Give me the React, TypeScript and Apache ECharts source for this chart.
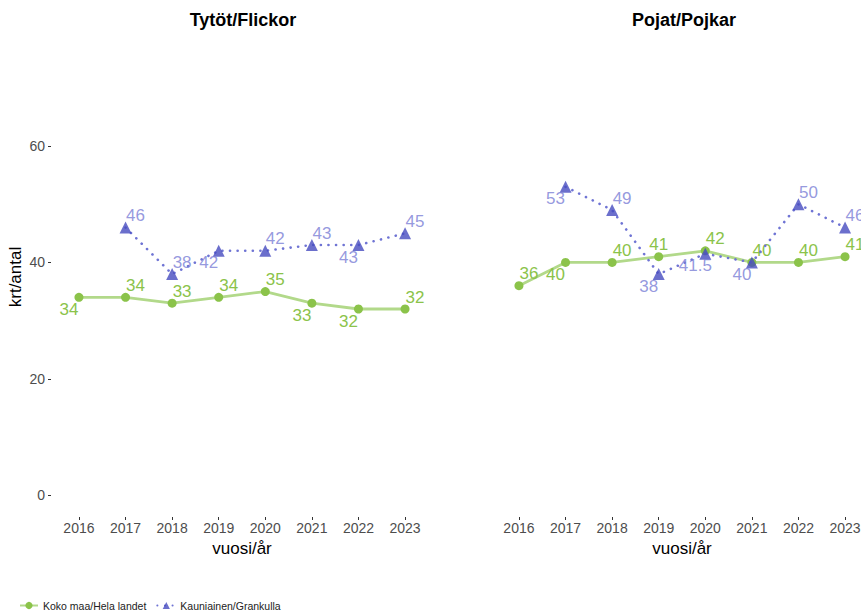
import React, { useEffect, useRef } from "react";
import * as echarts from "echarts";

const years = [2016, 2017, 2018, 2019, 2020, 2021, 2022, 2023];
const yTicks = [0, 20, 40, 60];

const girlsNational = [34, 34, 33, 34, 35, 33, 32, 32];
const girlsLocal = [null, 46, 38, 42, 42, 43, 43, 45];
const boysNational = [36, 40, 40, 41, 42, 40, 40, 41];
const boysLocal = [null, 53, 49, 38, 41.5, 40, 50, 46];

const seriesNames = ["Koko maa/Hela landet", "Kauniainen/Grankulla"];
const panelTitles = ["Tytöt/Flickor", "Pojat/Pojkar"];

// label placement codes: ar = above-right, bl = below-left, a = above
const girlsNationalPlace = ["bl", "ar", "ar", "ar", "ar", "bl", "bl", "ar"];
const girlsLocalPlace = ["", "ar", "ar", "bl", "ar", "ar", "bl", "ar"];
const boysNationalPlace = ["ar", "bl", "ar", "a", "ar", "ar", "ar", "ar"];
const boysLocalPlace = ["", "bl", "ar", "bl", "bl", "bl", "ar", "ar"];

const OFFSETS: Record<string, number[]> = {
  ar: [10, -12],
  bl: [-10, 12],
  a: [0, -12],
};

const FONT = "'Liberation Sans', Arial, Helvetica, sans-serif";
const GREEN = "#8bc34a";
const GREEN_LINE = "#b2d98a";
const PURPLE = "#464bbf";
const PURPLE_TEXT = "#7a7ed6";

function buildData(vals: (number | null)[], places: string[]) {
  const out: any[] = [];
  vals.forEach((v, i) => {
    if (v === null) return;
    out.push({
      value: [years[i], v],
      label: { offset: OFFSETS[places[i]] || [10, -12] },
    });
  });
  return out;
}

export default function App() {
  const ref = useRef<HTMLDivElement>(null);
  useEffect(() => {
    if (!ref.current) return;
    const chart = echarts.init(ref.current, null, { renderer: "svg" });
    const grids = [
      { left: 51, top: 37, width: 382, height: 480 },
      { left: 491, top: 37, width: 382, height: 480 },
    ];
    const xAxes = grids.map((_, gi) => ({
      type: "value",
      gridIndex: gi,
      min: 2015.4,
      max: 2023.6,
      axisLine: { show: false, onZero: false },
      splitLine: { show: false },
      axisTick: {
        show: true,
        customValues: years,
        length: 3,
        lineStyle: { color: "#333", width: 1 },
      },
      axisLabel: {
        customValues: years,
        formatter: (v: number) => String(v),
        color: "#4d4d4d",
        fontSize: 14,
        fontFamily: FONT,
        margin: 4,
      },
      name: "vuosi/år",
      nameLocation: "middle",
      nameGap: 22,
      nameTextStyle: { color: "#000", fontSize: 17, fontFamily: FONT },
    }));
    const yAxes = grids.map((_, gi) => ({
      type: "value",
      gridIndex: gi,
      min: -3.75,
      max: 78.75,
      axisLine: { show: false, onZero: false },
      splitLine: { show: false },
      axisTick: {
        show: gi === 0,
        customValues: yTicks,
        length: 3,
        lineStyle: { color: "#333", width: 1 },
      },
      axisLabel: {
        show: gi === 0,
        customValues: yTicks,
        color: "#4d4d4d",
        fontSize: 14,
        fontFamily: FONT,
        margin: 6,
      },
      name: gi === 0 ? "krt/antal" : "",
      nameLocation: "middle",
      nameGap: 27,
      nameRotate: 90,
      nameTextStyle: { color: "#000", fontSize: 17, fontFamily: FONT },
    }));

    const mkNational = (vals: number[], places: string[], gi: number) => ({
      name: seriesNames[0],
      type: "line",
      xAxisIndex: gi,
      yAxisIndex: gi,
      data: buildData(vals, places),
      symbol: "circle",
      symbolSize: 9,
      itemStyle: { color: GREEN },
      lineStyle: { color: GREEN_LINE, width: 2.8 },
      label: {
        show: true,
        position: "inside",
        align: "center",
        verticalAlign: "middle",
        color: GREEN,
        fontSize: 17,
        fontFamily: FONT,
        formatter: (p: any) => String(p.value[1]),
      },
      z: 2,
    });
    const mkLocal = (vals: (number | null)[], places: string[], gi: number) => ({
      name: seriesNames[1],
      type: "line",
      xAxisIndex: gi,
      yAxisIndex: gi,
      data: buildData(vals, places),
      symbol: "triangle",
      symbolSize: 12,
      itemStyle: { color: PURPLE, opacity: 0.8 },
      lineStyle: { color: "#6f74d4", width: 2.6, type: [0.1, 7.5], cap: "round" },
      label: {
        show: true,
        position: "inside",
        align: "center",
        verticalAlign: "middle",
        color: PURPLE_TEXT,
        fontSize: 17,
        fontFamily: FONT,
        formatter: (p: any) => String(p.value[1]),
      },
      z: 3,
    });

    chart.setOption({
      animation: false,
      backgroundColor: "#fff",
      grid: grids,
      xAxis: xAxes,
      yAxis: yAxes,
      legend: {
        left: 14,
        top: 595,
        itemWidth: 18,
        itemHeight: 9,
        itemGap: 10,
        textStyle: { fontSize: 10.5, fontFamily: FONT, color: "#222" },
        data: seriesNames,
      },
      graphic: panelTitles.map((t, i) => ({
        type: "text",
        x: i === 0 ? 243 : 684,
        y: 20,
        style: {
          text: t,
          textAlign: "center",
          textVerticalAlign: "middle",
          font: `bold 18px ${FONT}`,
          fill: "#000",
        },
      })),
      series: [
        mkNational(girlsNational, girlsNationalPlace, 0),
        mkLocal(girlsLocal, girlsLocalPlace, 0),
        mkNational(boysNational, boysNationalPlace, 1),
        mkLocal(boysLocal, boysLocalPlace, 1),
      ],
    });
    return () => chart.dispose();
  }, []);
  return (
    <div
      style={{
        position: "fixed",
        left: 0,
        top: 0,
        width: 861,
        height: 612,
        overflow: "hidden",
        background: "#fff",
      }}
    >
      <div ref={ref} style={{ width: 890, height: 612 }} />
    </div>
  );
}
